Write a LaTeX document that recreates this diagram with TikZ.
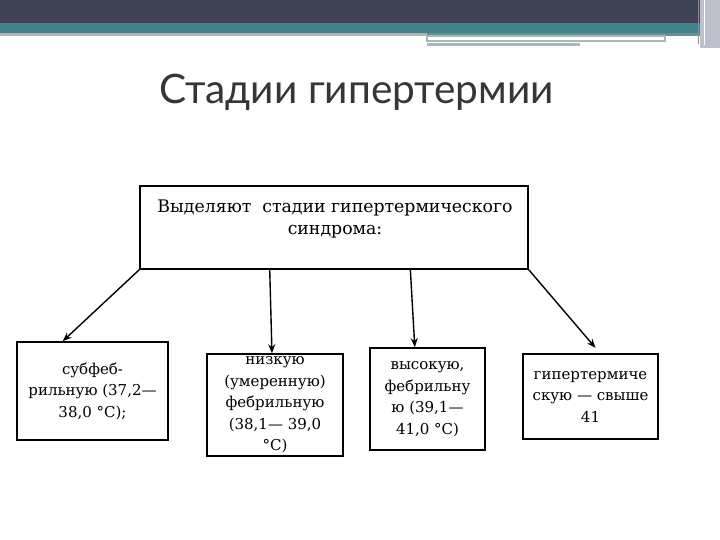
\documentclass[tikz,border=0pt]{standalone}
\usepackage{fontspec}
\setmainfont{DejaVu Serif}
\newfontfamily\titlefont{Lato}
\usetikzlibrary{calc,arrows.meta}
\definecolor{bar dark}{HTML}{3E4354}
\definecolor{bar plum}{HTML}{463F58}
\definecolor{bar teal}{HTML}{41828A}
\definecolor{bar grey}{HTML}{A7B8BB}
\definecolor{bar side}{HTML}{BFBECB}
\definecolor{title grey}{HTML}{363636}
\tikzset{
    stage box/.style={
        draw,
        line width=1.6pt,
        inner sep=0pt,
        align=center,
        font=\fontsize{15}{21.5}\selectfont
    },
    main box/.style={draw, line width=1.6pt, inner sep=0pt},
    main text/.style={align=center, font=\fontsize{17.3}{22}\selectfont},
    stage arrow/.style={line width=1.4pt, -{Stealth[length=9pt,width=7pt]}}
}

\begin{document}
\begin{tikzpicture}[x=1pt,y=-1pt]
    \useasboundingbox(0,0)rectangle(720,540);

    \fill[bar dark](0,0)rectangle(720,17);
    \fill[bar plum](0,17)rectangle(720,23);
    \fill[bar teal](0,23)rectangle(720,33);
    \fill[bar grey](0,33)rectangle(427,36);
    \fill[bar teal!70!bar grey](427,33)rectangle(720,36);
    \draw[bar grey,line width=1.5pt](427,36)rectangle(665,41);
    \fill[bar grey](427,43)rectangle(580,46);
    \fill[bar side](700,0)rectangle(720,48);
    \draw[white,line width=.8pt](704,0)--(704,45);
    \draw[bar dark!60,line width=.6pt](698,0)--(698,44);

    \node[font=\titlefont\fontsize{40.6}{40.6}\selectfont,text=title grey,anchor=base]
        (title)at(356.5,104){Стадии гипертермии};

    \node[main box,minimum width=388pt,minimum height=83pt](main)at(334,227.5){};
    \node[main text](maintext)at(335,219){Выделяют\ \ стадии гипертермического\\синдрома:};

    \node[stage box,minimum width=151pt,minimum height=98pt](sub)at(92.5,391)
        {субфеб-\\рильную (37,2—\\38,0 °С);};
    \node[stage box,minimum width=136pt,minimum height=102pt](low)at(275,405)
        {низкую\\(умеренную)\\фебрильную\\(38,1— 39,0\\°С)};
    \node[stage box,minimum width=115pt,minimum height=102pt](high)at(427.5,399)
        {высокую,\\фебрильну\\ю (39,1—\\41,0 °С)};
    \node[stage box,minimum width=135pt,minimum height=85pt](hyper)at(590.5,396.5)
        {гипертермиче\\скую — свыше\\41};

    \draw[stage arrow](main.south west)--($(sub.north west)!.305!(sub.north east)$);
    \draw[stage arrow]($(main.south west)!.335!(main.south east)$)
        --($(low.north west)!.478!(low.north east)$);
    \draw[stage arrow]($(main.south west)!.696!(main.south east)$)
        --($(high.north west)!.391!(high.north east)$);
    \draw[stage arrow,shorten >=7pt](main.south east)
        --($(hyper.north west)!.57!(hyper.north east)$);
\end{tikzpicture}
\end{document}
